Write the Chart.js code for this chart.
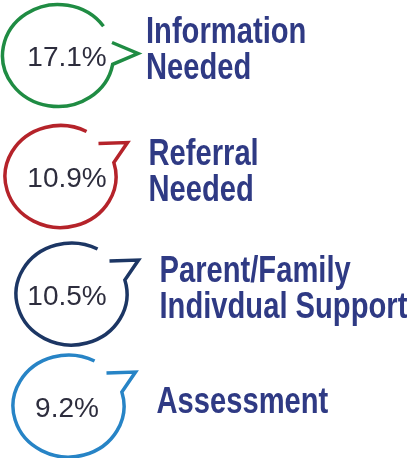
<!DOCTYPE html>
<html>
<head>
<meta charset="utf-8">
<script src="https://cdn.jsdelivr.net/npm/chart.js@4"></script>
<style>
	html, body { margin: 0; padding: 0; background: #fff; }
	#wrap { position: relative; width: 407px; height: 458px; }
</style>
</head>
<body>
<div id="wrap"><canvas id="myChart"></canvas></div>
<script>
const categories = ['Information Needed', 'Referral Needed', 'Parent/Family Indivdual Support', 'Assessment'];
const labelLines = [['Information', 'Needed'], ['Referral', 'Needed'], ['Parent/Family', 'Indivdual Support'], ['Assessment']];
const shares = [17.1, 10.9, 10.5, 9.2];
const ringColors = ['#1f8c43', '#b5232a', '#1c3664', '#2784c6'];

const deg = Math.PI / 180;

// hand-drawn look: each bubble sits a little off the column
const bubbleNudge = [[-9, -1.5], [-6.5, 2.5], [4.5, 3], [1.5, -2]];
const tailStyle = ['chevron', 'hook', 'hook', 'hook'];

function drawBubble(ctx, cx, cy, color, style) {
	const rx = 55.5, ry = 51;
	ctx.save();
	ctx.strokeStyle = color;
	ctx.lineWidth = 3.5;
	ctx.lineJoin = 'miter';
	ctx.lineCap = 'butt';
	ctx.beginPath();
	if (style === 'chevron') {
		ctx.moveTo(cx + 54, cy - 13);
		ctx.lineTo(cx + 80, cy - 2);
		ctx.ellipse(cx, cy, rx, ry, 0, 10 * deg, 325 * deg, false);
	} else {
		ctx.moveTo(cx + 38, cy - 33);
		ctx.lineTo(cx + 67, cy - 34);
		ctx.ellipse(cx, cy, rx, ry, 0, -16 * deg, 298 * deg, false);
	}
	ctx.stroke();
	ctx.restore();
}

const bubblePlugin = {
	id: 'bubbles',
	afterDatasetsDraw(chart) {
		const ctx = chart.ctx;
		const meta = chart.getDatasetMeta(0);
		meta.data.forEach((pt, i) => {
			const cx = pt.x + bubbleNudge[i][0];
			const cy = pt.y + bubbleNudge[i][1];
			drawBubble(ctx, cx, cy, ringColors[i], tailStyle[i]);

			ctx.save();
			ctx.fillStyle = '#2d2d3d';
			ctx.font = '28px "Liberation Sans", Arial, sans-serif';
			ctx.textAlign = 'center';
			ctx.textBaseline = 'alphabetic';
			ctx.fillText(shares[i].toFixed(1) + '%', pt.x, cy + 10.5);
			ctx.restore();

			const lines = labelLines[i];
			const first = lines.length === 1 ? cy + 7 : cy - 12;
			ctx.save();
			ctx.fillStyle = '#2f3a84';
			ctx.font = 'bold 36px "Liberation Sans", Arial, sans-serif';
			ctx.textAlign = 'left';
			ctx.textBaseline = 'alphabetic';
			lines.forEach((line, k) => {
				ctx.save();
				ctx.translate(cx + 88, first + k * 36);
				ctx.scale(0.81, 1);
				ctx.fillText(line, 0, 0);
				ctx.restore();
			});
			ctx.restore();
		});
	}
};

new Chart('myChart', {
	type: 'scatter',
	data: {
		datasets: [{
			data: categories.map((c, i) => ({ x: 0, y: i })),
			pointRadius: 0,
			pointHoverRadius: 0
		}]
	},
	options: {
		responsive: true,
		maintainAspectRatio: false,
		animation: false,
		layout: { padding: 0 },
		plugins: { legend: { display: false }, tooltip: { enabled: false } },
		scales: {
			x: { type: 'linear', display: false, min: -0.67, max: 3.4 },
			y: { type: 'linear', display: false, reverse: true, min: -0.487, max: 3.427 }
		}
	},
	plugins: [bubblePlugin]
});
</script>
</body>
</html>
